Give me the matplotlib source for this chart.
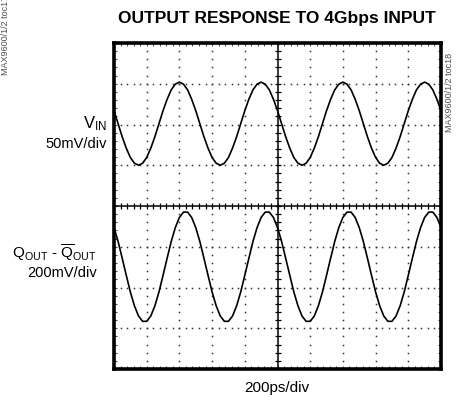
import numpy as np
import matplotlib
matplotlib.use('Agg')
import matplotlib.pyplot as plt

# scope traces, sampled every 0.125 div (values in divisions)
t_div = np.arange(81) * 0.125

v_in = [2.34, 2.02, 1.70, 1.42, 1.19, 1.05, 1.00, 1.05, 1.19, 1.42,
        1.70, 2.02, 2.34, 2.62, 2.85, 2.99, 3.04, 2.99, 2.85, 2.62,
        2.34, 2.02, 1.70, 1.42, 1.19, 1.05, 1.00, 1.05, 1.19, 1.42,
        1.70, 2.02, 2.34, 2.62, 2.85, 2.99, 3.04, 2.99, 2.85, 2.62,
        2.34, 2.02, 1.70, 1.42, 1.19, 1.05, 1.00, 1.05, 1.19, 1.42,
        1.70, 2.02, 2.34, 2.62, 2.85, 2.99, 3.04, 2.99, 2.85, 2.62,
        2.34, 2.02, 1.70, 1.42, 1.19, 1.05, 1.00, 1.05, 1.19, 1.42,
        1.70, 2.02, 2.34, 2.62, 2.85, 2.99, 3.04, 2.99, 2.85, 2.62,
        2.34]

q_out = [-0.53, -0.87, -1.28, -1.70, -2.11, -2.45, -2.70, -2.83, -2.83, -2.70,
         -2.45, -2.11, -1.70, -1.28, -0.87, -0.53, -0.28, -0.15, -0.15, -0.28,
         -0.53, -0.87, -1.28, -1.70, -2.11, -2.45, -2.70, -2.83, -2.83, -2.70,
         -2.45, -2.11, -1.70, -1.28, -0.87, -0.53, -0.28, -0.15, -0.15, -0.28,
         -0.53, -0.87, -1.28, -1.70, -2.11, -2.45, -2.70, -2.83, -2.83, -2.70,
         -2.45, -2.11, -1.70, -1.28, -0.87, -0.53, -0.28, -0.15, -0.15, -0.28,
         -0.53, -0.87, -1.28, -1.70, -2.11, -2.45, -2.70, -2.83, -2.83, -2.70,
         -2.45, -2.11, -1.70, -1.28, -0.87, -0.53, -0.28, -0.15, -0.15, -0.28,
         -0.53]

title = 'OUTPUT RESPONSE TO 4Gbps INPUT'
x_label = '200ps/div'
note_left = 'MAX9600/1/2 toc17'
note_right = 'MAX9600/1/2 toc18'

plt.rcParams['font.family'] = ['Liberation Sans', 'DejaVu Sans']
plt.rcParams['mathtext.fontset'] = 'custom'
plt.rcParams['mathtext.rm'] = 'Liberation Sans'
plt.rcParams['mathtext.it'] = 'Liberation Sans'

fig = plt.figure(figsize=(4.62, 4.02), dpi=100)
ax = fig.add_axes([114 / 462, 32 / 402, 327 / 462, 326 / 402])
ax.set_xlim(0, 10)
ax.set_ylim(-4, 4)

# dotted graticule
minor = np.arange(0, 10.01, 0.2)
for gy in [-3, -2, -1, 1, 2, 3]:
    ax.plot(minor, np.full_like(minor, gy), ls='none', marker='s', ms=1.1,
            color='0.2', mec='none', zorder=1)
minor_y = np.arange(-4, 4.01, 0.2)
for gx in [1, 2, 3, 4, 6, 7, 8, 9]:
    ax.plot(np.full_like(minor_y, gx), minor_y, ls='none', marker='s', ms=1.1,
            color='0.2', mec='none', zorder=1)

# centre axes with tick crosses
ax.axhline(0, color='black', lw=1.1, zorder=2)
ax.axvline(5, color='black', lw=1.1, zorder=2)
ax.plot(minor, np.zeros_like(minor), ls='none', marker='|', ms=5, mew=0.9,
        color='black', zorder=2)
ax.plot(np.full_like(minor_y, 5), minor_y, ls='none', marker='_', ms=5, mew=0.9,
        color='black', zorder=2)

# traces
ax.plot(t_div, v_in, color='black', lw=1.2, zorder=3)
ax.plot(t_div, q_out, color='black', lw=1.2, zorder=3)

# frame
for s in ax.spines.values():
    s.set_linewidth(2.6)
ax.set_xticks(np.arange(0, 11, 1))
ax.set_yticks(np.arange(-4, 5, 1))
ax.set_xticks(minor, minor=True)
ax.set_yticks(minor_y, minor=True)
ax.tick_params(which='both', direction='in', top=True, right=True,
               labelbottom=False, labelleft=False, length=2.5, width=0.8,
               color='0.3')

fig.text(277 / 462, 1 - 18 / 402, title, ha='center', va='center',
         fontsize=12.5, fontweight='bold')
fig.text(277 / 462, 1 - 388 / 402, x_label, ha='center', va='center', fontsize=11)

fig.text(107 / 462, 1 - 124 / 402, r'$\mathrm{V_{IN}}$', ha='right', va='center',
         fontsize=12)
fig.text(107 / 462, 1 - 144 / 402, '50mV/div', ha='right', va='center', fontsize=10.5)
fig.text(97 / 462, 1 - 253 / 402,
         r'$\mathrm{Q_{OUT}}$ - $\overline{\mathrm{Q}}_{\mathrm{OUT}}$',
         ha='right', va='center', fontsize=11)
fig.text(97 / 462, 1 - 273 / 402, '200mV/div', ha='right', va='center', fontsize=10.5)

fig.text(6 / 462, 1 - 75 / 402, note_left, rotation=90, ha='center', va='bottom',
         fontsize=6.5, color='0.3')
fig.text(449 / 462, 1 - 132 / 402, note_right, rotation=90, ha='center', va='bottom',
         fontsize=6.5, color='0.3')

fig.savefig('out.png', dpi=100)
